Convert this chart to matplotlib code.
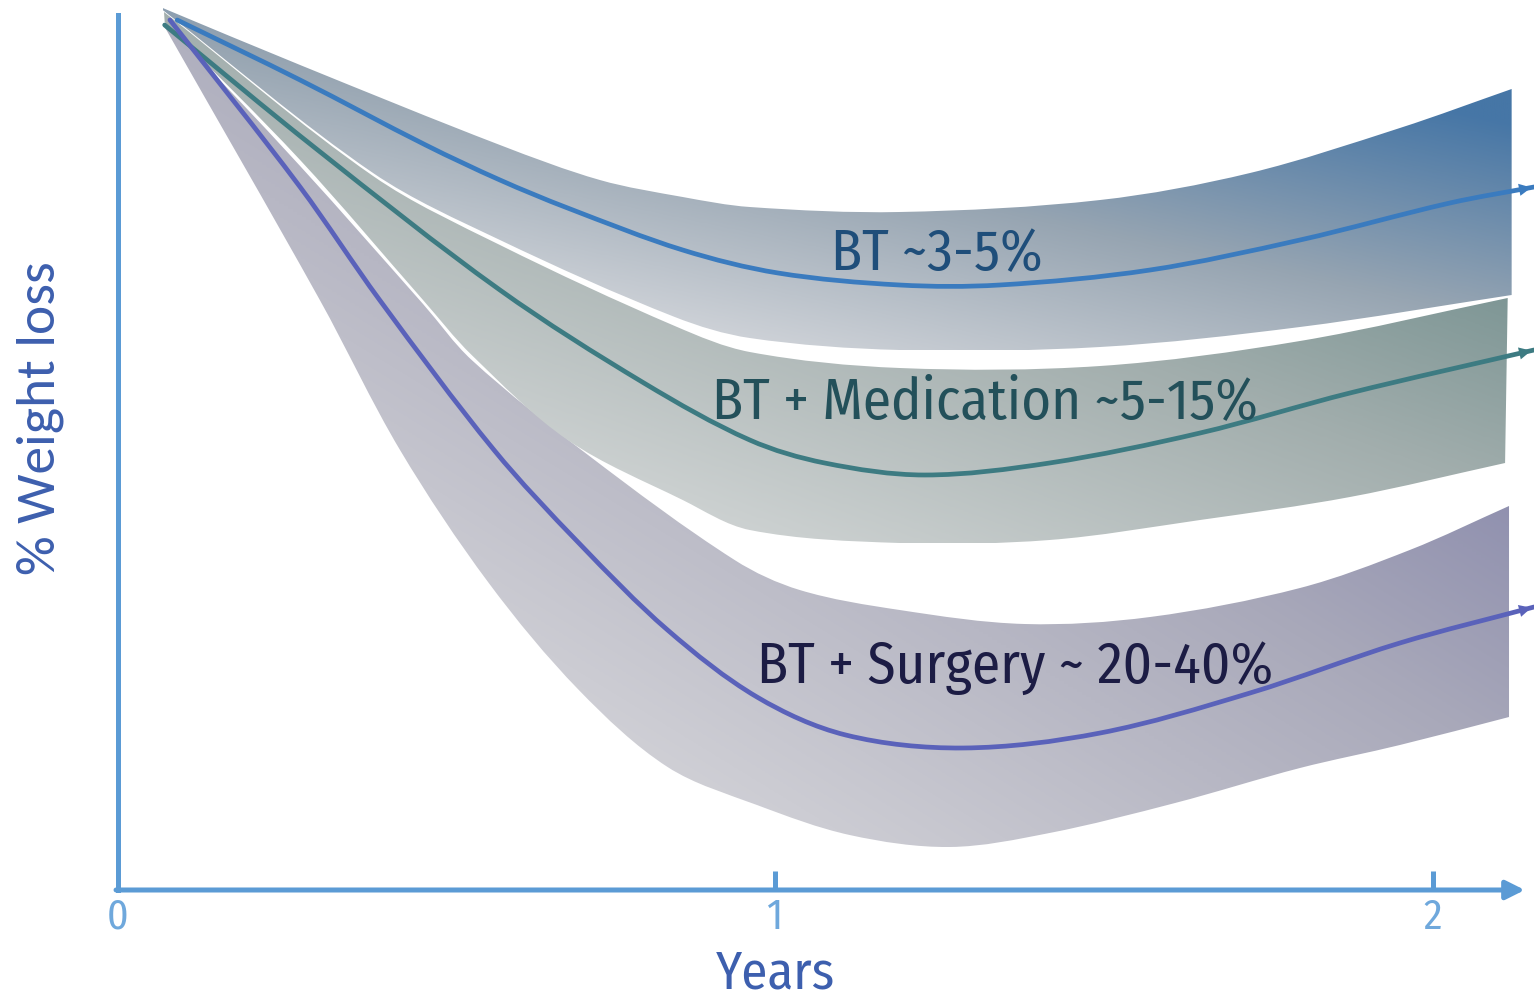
import numpy as np
import matplotlib
matplotlib.use("Agg")
import matplotlib.pyplot as plt
from matplotlib.path import Path
from matplotlib.patches import PathPatch
from matplotlib.colors import LinearSegmentedColormap

# --- data (x in years, y in chart units) ---
bt_x = [0.090, 0.277, 0.468, 0.581, 0.684, 0.859, 1.004, 1.189, 1.341, 1.570, 1.798, 2.026, 2.154]
bt_y = [43.50, 40.50, 37.25, 35.50, 34.10, 32.00, 30.85, 30.25, 30.25, 31.00, 32.50, 34.35, 35.15]

med_x = [0.071, 0.300, 0.581, 0.800, 0.961, 1.075, 1.227, 1.417, 1.646, 1.874, 2.154]
med_y = [43.25, 37.10, 30.00, 25.35, 22.50, 21.35, 20.75, 21.35, 22.85, 24.85, 27.00]

surg_x = [0.079, 0.277, 0.398, 0.572, 0.701, 0.836, 0.972, 1.107, 1.285, 1.494, 1.722, 1.950, 2.154]
surg_y = [43.50, 35.15, 29.50, 22.00, 17.35, 13.00, 9.65, 7.75, 7.10, 7.85, 9.85, 12.35, 14.15]

# bands: upper and lower edges
bt_top_x = [0.068, 0.277, 0.581, 0.733, 0.859, 0.961, 1.189, 1.494, 1.722, 1.950, 2.120]
bt_top_y = [44.10, 41.25, 37.25, 35.50, 34.65, 34.15, 33.90, 34.50, 35.85, 38.10, 40.05]
bt_low_x = [0.068, 0.388, 0.581, 0.847, 0.961, 1.189, 1.494, 1.798, 2.120]
bt_low_y = [44.00, 35.85, 32.50, 28.65, 27.60, 27.00, 27.15, 28.15, 29.75]

med_top_x = [0.070, 0.388, 0.581, 0.847, 0.961, 1.189, 1.494, 1.798, 2.114]
med_top_y = [43.90, 35.70, 32.25, 28.20, 26.90, 26.10, 26.20, 27.45, 29.60]
med_low_x = [0.071, 0.277, 0.464, 0.538, 0.684, 0.859, 0.961, 1.189, 1.417, 1.646, 1.874, 2.110]
med_low_y = [43.40, 36.50, 29.50, 26.75, 22.50, 19.50, 18.00, 17.35, 17.50, 18.50, 19.65, 21.35]

surg_top_x = [0.076, 0.277, 0.464, 0.538, 0.715, 0.938, 1.037, 1.189, 1.379, 1.570, 1.798, 1.965, 2.116]
surg_top_y = [43.25, 36.20, 29.30, 26.50, 21.75, 16.50, 15.00, 14.00, 13.30, 13.65, 15.10, 17.00, 19.20]
surg_low_x = [0.071, 0.307, 0.429, 0.564, 0.701, 0.836, 0.972, 1.113, 1.265, 1.417, 1.608, 1.798, 1.950, 2.116]
surg_low_y = [43.15, 29.50, 22.00, 15.35, 10.00, 6.15, 4.25, 2.75, 2.15, 2.85, 4.35, 6.10, 7.25, 8.65]

labels = ["BT ~3-5%", "BT + Medication ~5-15%", "BT + Surgery ~ 20-40%"]
label_x = [1.246, 1.319, 1.364]
label_y = [31.0, 23.6, 10.35]

x_ticks = [0, 1, 2]

# --- style ---
AXIS_C = "#5b9bd5"
TICKLAB_C = "#6fa8dc"
TITLE_C = "#3d5fae"
line_colors = ["#3a7bbf", "#3d7b82", "#5a62ba"]
text_colors = ["#1f4e7a", "#23505a", "#1c1c44"]
band_cmaps = [
    ["#d3d6db", "#97a5b2", "#4676a6"],
    ["#d0d4d4", "#a2aead", "#658685"],
    ["#d3d3d8", "#a9a9ba", "#7374a2"],
]
NARROW = ["Fira Sans Condensed", "Barlow Semi Condensed", "Asap Condensed", "DejaVu Sans"]
SIDE = ["Carlito", "Lato", "DejaVu Sans"]

# chart units -> roughly square pixel units, only used to space the spline handles
SX, SY = 657.5, 20.0


def bezier_path(xs, ys, move=True):
    # chordal catmull-rom through the points, given to matplotlib as cubic beziers
    p = np.column_stack([np.asarray(xs) * SX, np.asarray(ys) * SY])
    n = len(p)
    d = np.hypot(*np.diff(p, axis=0).T)
    m = np.zeros_like(p)
    m[0] = (p[1] - p[0]) / d[0]
    m[-1] = (p[-1] - p[-2]) / d[-1]
    for i in range(1, n - 1):
        m[i] = (p[i + 1] - p[i - 1]) / (d[i - 1] + d[i])
    verts = [p[0]]
    codes = [Path.MOVETO if move else Path.LINETO]
    for i in range(n - 1):
        verts += [p[i] + m[i] * d[i] / 3, p[i + 1] - m[i + 1] * d[i] / 3, p[i + 1]]
        codes += [Path.CURVE4] * 3
    verts = np.array(verts) / [SX, SY]
    return list(verts), codes


def band_path(tx, ty, lx, ly):
    v1, c1 = bezier_path(tx, ty, move=True)
    v2, c2 = bezier_path(lx[::-1], ly[::-1], move=False)
    verts = v1 + v2 + [v1[0]]
    codes = c1 + c2 + [Path.CLOSEPOLY]
    return Path(verts, codes)


fig = plt.figure(figsize=(15.34, 9.97), dpi=100)
ax = fig.add_axes([118 / 1534, 107 / 997, 1416 / 1534, 890 / 997])
XMAX, YMAX = 2.154, 44.5

bands = [
    (surg_top_x, surg_top_y, surg_low_x, surg_low_y, band_cmaps[2], (0.5, 0.5)),
    (med_top_x, med_top_y, med_low_x, med_low_y, band_cmaps[1], (0.5, 0.55)),
    (bt_top_x, bt_top_y, bt_low_x, bt_low_y, band_cmaps[0], (0.5, 0.6)),
]

for z, (tx, ty, lx, ly, cols, w) in enumerate(bands):
    path = band_path(tx, ty, lx, ly)
    patch = PathPatch(path, facecolor="none", edgecolor="none")
    ax.add_patch(patch)
    x0, x1 = min(tx + lx), max(tx + lx)
    y0, y1 = min(ty + ly), max(ty + ly)
    gx, gy = np.meshgrid(np.linspace(0, 1, 300), np.linspace(0, 1, 300))
    t = w[0] * gx + w[1] * gy
    cmap = LinearSegmentedColormap.from_list("band%d" % z, cols)
    im = ax.imshow(t, extent=[x0, x1, y0, y1], origin="lower", aspect="auto",
                   cmap=cmap, vmin=0.2, vmax=0.9, zorder=1 + z * 0.1,
                   interpolation="bilinear")
    im.set_clip_path(patch)

for xs, ys, c in [(bt_x, bt_y, line_colors[0]), (med_x, med_y, line_colors[1]),
                  (surg_x, surg_y, line_colors[2])]:
    v, cd = bezier_path(xs, ys)
    ax.add_patch(PathPatch(Path(v, cd), facecolor="none", edgecolor=c, lw=3.4,
                           capstyle="round", zorder=3, clip_on=False))
    slope = (ys[-1] - ys[-2]) / (xs[-1] - xs[-2])
    ax.annotate("", xy=(xs[-1], ys[-1]), xytext=(xs[-1] - 0.03, ys[-1] - slope * 0.03),
                arrowprops=dict(arrowstyle="-|>", color=c, lw=0, mutation_scale=22),
                annotation_clip=False, zorder=3)

for s, lx_, ly_, c in zip(labels, label_x, label_y, text_colors):
    ax.text(lx_, ly_, s, ha="center", va="baseline", color=c, fontsize=41,
            family=NARROW, zorder=4)

# axes
ax.set_xlim(0, XMAX)
ax.set_ylim(0, YMAX)
for side in ["top", "right", "bottom"]:
    ax.spines[side].set_visible(False)
ax.spines["left"].set_color(AXIS_C)
ax.spines["left"].set_linewidth(3.6)
ax.spines["left"].set_bounds(0, 43.75)
ax.annotate("", xy=(2.140, 0), xytext=(-0.003, 0),
            arrowprops=dict(arrowstyle="-|>", color=AXIS_C, lw=3.6, mutation_scale=28,
                            shrinkA=0, shrinkB=0),
            annotation_clip=False, zorder=5)
ax.set_yticks([])
ax.set_xticks(x_ticks)
ax.set_xticklabels([str(v) for v in x_ticks], family=NARROW)
ax.tick_params(axis="x", direction="in", length=14, width=3.6, color=AXIS_C,
               labelsize=30, labelcolor=TICKLAB_C, pad=5)

ax.text(1.0, -4.9, "Years", ha="center", va="baseline", color=TITLE_C,
        fontsize=38, family=NARROW, clip_on=False)
ax.text(-0.119, 23.6, "% Weight loss", ha="center", va="center", rotation=90,
        color=TITLE_C, fontsize=40, family=SIDE, clip_on=False)

fig.savefig("out.png", dpi=100)
